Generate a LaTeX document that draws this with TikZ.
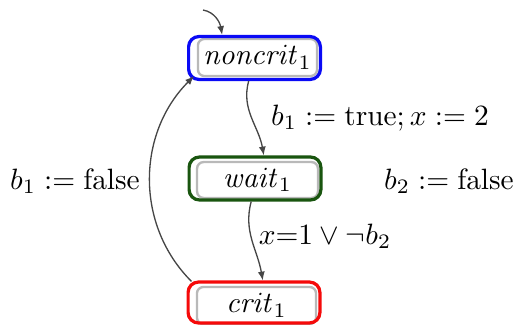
\documentclass[tikz,border=0pt]{standalone}
\usetikzlibrary{arrows.meta}
\definecolor{ringblue}{RGB}{10,10,245}
\definecolor{ringgreen}{RGB}{25,85,15}
\definecolor{ringred}{RGB}{245,10,10}
\definecolor{edgegray}{RGB}{70,70,70}
\begin{document}
\begin{tikzpicture}[x=0.34pt,y=0.34pt,
  inner/.style={draw=gray!55, line width=0.8pt, rounded corners=2.2pt,
    inner sep=0pt, minimum width=40.5pt, minimum height=12.6pt},
  ring/.style={draw=#1, line width=1.1pt, rounded corners=3.5pt,
    inner sep=0pt, minimum width=44.8pt, minimum height=14.6pt},
  trans/.style={draw=edgegray, line width=0.45pt, -{Latex[length=3pt,width=2.4pt]}},
  lbl/.style={inner sep=0pt}]
\useasboundingbox (0,0) rectangle (518,324);

% locations: a grey state box inside a coloured ring
\node[inner] (noncritbox) at (257.5,266.5) {$\mathit{noncrit}_1$};
\node[ring=ringblue] (noncrit) at (254.5,266) {};
\node[inner, minimum width=41.1pt, minimum height=12.2pt] (waitbox) at (257.5,144) {$\mathit{wait}_1$};
\node[ring=ringgreen] (wait) at (255,145.5) {};
\node[inner] (critbox) at (256.5,18.5) {$\mathit{crit}_1$};
\node[ring=ringred, minimum height=13.9pt] (crit) at (254,21.5) {};

% initial marker
\coordinate (init) at (203,314);
\draw[trans] (init) to[out=-10,in=100] ([xshift=-11pt]noncrit.north);

% transitions
\draw[trans] ([xshift=-2pt]noncrit.south) to[out=255,in=100] ([xshift=3pt]wait.north);
\draw[trans] ([xshift=-1.3pt]wait.south) to[out=255,in=100] ([xshift=3pt]crit.north);
\draw[trans] ([shift={(5,-1)}]crit.north west) to[out=135,in=225] ([shift={(7,5)}]noncrit.south west);

% guards and updates
\node[lbl] (l1) at (380,206) {$b_1 := \mathrm{true}; x := 2$};
\node[lbl] (l2) at (325,88) {$x{=}1 \vee \neg b_2$};
\node[lbl] (l3) at (75,143) {$b_1 := \mathrm{false}$};
\node[lbl] (l4) at (449,143) {$b_2 := \mathrm{false}$};
\end{tikzpicture}
\end{document}
